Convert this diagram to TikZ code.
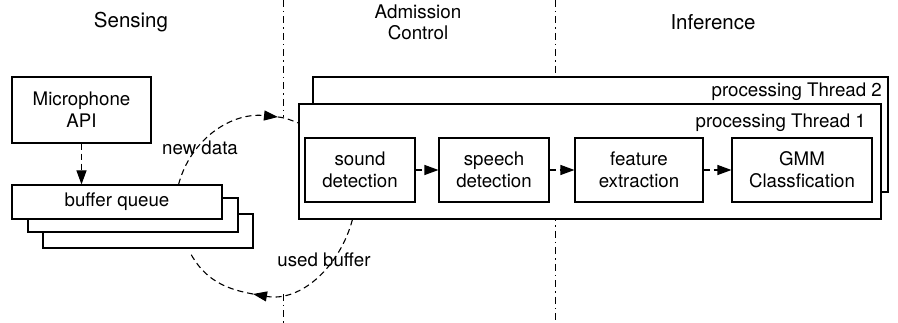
\documentclass[tikz,border=0pt]{standalone}
\usepackage{fontspec}
\setmainfont{TeX Gyre Heros}
\usetikzlibrary{arrows.meta,calc}
\newcommand{\bodyfnt}{\fontsize{18.7}{22}\selectfont}
\newcommand{\headfnt}{\fontsize{20.5}{22}\selectfont}
\begin{document}
\begin{tikzpicture}[x=1pt,y=1pt,
  box/.style={draw, line width=1.1pt, fill=white, inner sep=0pt, align=center, font=\bodyfnt},
  conn/.style={line width=1.1pt, dash pattern=on 6pt off 4pt, -{Triangle[length=14pt,width=10pt]}},
  dashline/.style={line width=1.1pt, dash pattern=on 6pt off 4pt},
  divider/.style={line width=1pt, dash pattern=on 7pt off 4pt on 1.5pt off 4pt},
  lbl/.style={font=\bodyfnt, inner sep=0pt},
  head/.style={font=\headfnt, inner sep=0pt, align=center}]
\useasboundingbox (0,0) rectangle (898,323);
% dividers
\coordinate (d1t) at (283,323);
\coordinate (d1m) at (283,206);
\coordinate (d1b) at (283,29);
\coordinate (d1e) at (283,0);
\coordinate (d2t) at (555,323);
\coordinate (d2e) at (555,0);
\draw[divider] (d1t) -- (d1m);
\draw[divider] (d1b) -- (d1e);
\draw[divider] (d2t) -- (d2e);
% headers
\node[head] (hs) at (131,301) {Sensing};
\node[head, font=\fontsize{18.8}{21}\selectfont] (ha) at (418,301) {Admission\\Control};
\node[head] (hi) at (713,301) {Inference};
% sensing
\node[box, minimum width=139pt, minimum height=66pt] (mic) at (81.5,213) {Microphone\\API};
\node[box, minimum width=210pt, minimum height=34pt] (bq3) at (148,92) {};
\node[box, minimum width=210pt, minimum height=34pt] (bq2) at (133,108) {};
\node[box, minimum width=210pt, minimum height=34pt] (bq1) at (117,121) {buffer queue};
\draw[conn] (mic.south) -- (mic.south |- bq1.north);
% threads
\node[box, minimum width=575pt, minimum height=115pt] (t2) at (600.5,188.5) {};
\node[lbl, anchor=base east] (t2l) at (882,226) {processing Thread 2};
\node[box, minimum width=582pt, minimum height=115pt] (t1) at (590,161.5) {};
\node[lbl, anchor=base east] (t1l) at (866,195) {processing Thread 1};
% stages
\node[box, minimum width=110pt, minimum height=64pt] (sd) at (360,153) {sound\\detection};
\node[box, minimum width=110pt, minimum height=64pt] (spd) at (494,153) {speech\\detection};
\node[box, minimum width=128pt, minimum height=64pt] (fe) at (639,153) {feature\\extraction};
\node[box, minimum width=140pt, minimum height=64pt] (gmm) at (802,153) {GMM\\Classfication};
\draw[conn] (sd) -- (spd);
\draw[conn] (spd) -- (fe);
\draw[conn] (fe) -- (gmm);
% admission loop
\coordinate (nd) at (278,206);
\coordinate (ub) at (253,29);
\draw[conn] ([xshift=-44pt]bq1.north east) to[out=75,in=174] (nd);
\draw[dashline] (nd) to[out=-6,in=160] ([yshift=38.5pt]t1.west);
\draw[conn] ([xshift=54pt]t1.south west) to[out=-105,in=-10] (ub);
\draw[dashline] (ub) to[out=170,in=-61] ([xshift=-63pt,yshift=-5pt]bq3.south east);
\node[lbl] (ndl) at (200,175) {new data};
\node[lbl] (ubl) at (324,63) {used buffer};
\end{tikzpicture}
\end{document}
